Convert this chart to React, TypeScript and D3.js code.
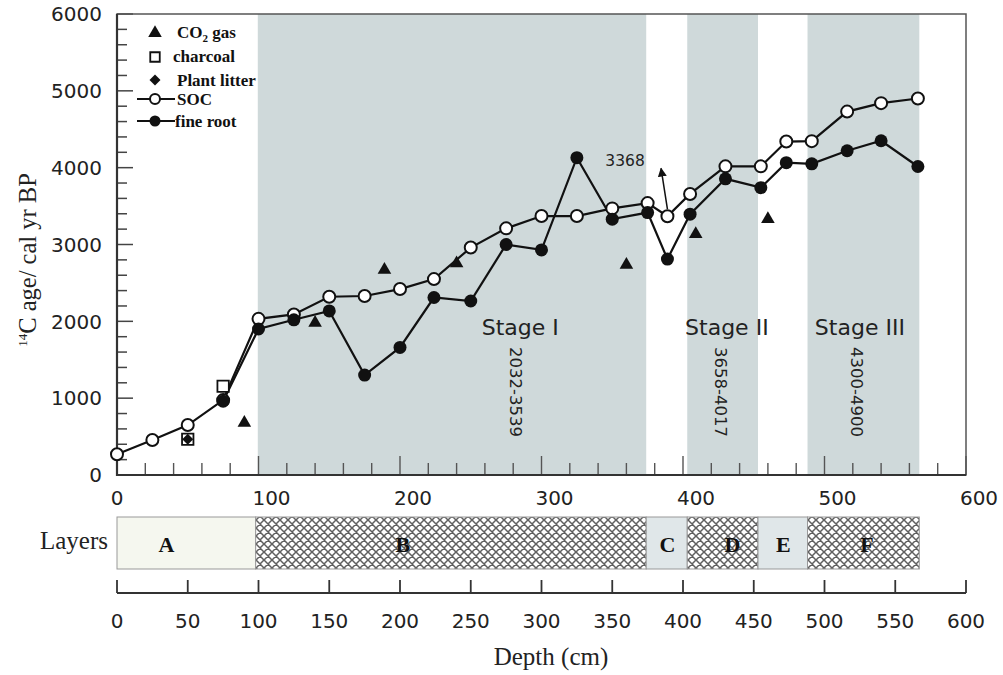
import { useEffect, useRef } from 'react';
import * as d3 from 'd3';

// SOC (open circles): depth (cm) and 14C age (cal yr BP)
const socDepth = [0, 25, 50, 75, 100, 125, 150, 175, 200, 224, 250, 275, 300, 325, 350, 375, 389, 405, 430, 455, 473, 491, 516, 540, 566];
const socAge = [270, 455, 650, 975, 2032, 2090, 2320, 2330, 2420, 2550, 2960, 3210, 3370, 3370, 3470, 3539, 3368, 3658, 4017, 4017, 4340, 4345, 4730, 4840, 4900];

// fine root (filled circles)
const rootDepth = [75, 100, 125, 150, 175, 200, 224, 250, 275, 300, 325, 350, 375, 389, 405, 430, 455, 473, 491, 516, 540, 566];
const rootAge = [960, 1900, 2020, 2135, 1300, 1660, 2310, 2265, 3000, 2930, 4130, 3330, 3415, 2810, 3395, 3855, 3740, 4065, 4050, 4220, 4350, 4015];

// CO2 gas (triangles), charcoal (squares), plant litter (diamond)
const co2Depth = [90, 140, 189, 240, 360, 409, 460];
const co2Age = [680, 1980, 2670, 2755, 2735, 3135, 3330];
const charcoalDepth = [50, 75];
const charcoalAge = [465, 1155];
const litterDepth = [50];
const litterAge = [465];

// shaded stages
const stageNames = ['Stage I', 'Stage II', 'Stage III'];
const stageRanges = ['2032-3539', '3658-4017', '4300-4900'];
const stageStart = [99.5, 403, 488];
const stageEnd = [374, 453, 567];
const stageLabelDepth = [285, 431, 525];
const stageRangeDepth = [282, 427, 523];

// soil layers strip
const layerNames = ['A', 'B', 'C', 'D', 'E', 'F'];
const layerFrom = [0, 98, 374, 403, 453, 488];
const layerTo = [98, 374, 403, 453, 488, 567];
const layerKind = ['plain', 'hatch', 'light', 'hatch', 'light', 'hatch'];
const layerLabelDepth = [35, 202, 389, 435, 471, 530];

const yTickLabels = [0, 1000, 2000, 3000, 4000, 5000, 6000];
const xTickLabels = [0, 100, 200, 300, 400, 500, 600];
const depthTickLabels = [0, 50, 100, 150, 200, 250, 300, 350, 400, 450, 500, 550, 600];

const App = () => {
  const chartRef = useRef<SVGSVGElement | null>(null);

  useEffect(() => {
    if (!chartRef.current) return;
    const svg = d3.select(chartRef.current);
    svg.selectAll('*').remove();

    const sans = '"DejaVu Sans", sans-serif';
    const serif = '"Liberation Serif", "Times New Roman", serif';

    const x = d3.scaleLinear().domain([0, 600]).range([117, 966]);
    const y = d3.scaleLinear().domain([0, 6000]).range([475, 14]);

    const defs = svg.append('defs');
    const pat = defs.append('pattern')
      .attr('id', 'xhatch')
      .attr('patternUnits', 'userSpaceOnUse')
      .attr('width', 8)
      .attr('height', 8);
    pat.append('rect').attr('width', 8).attr('height', 8).attr('fill', '#fff');
    pat.append('path')
      .attr('d', 'M0,0L8,8M-1,7L1,9M7,-1L9,1M8,0L0,8M-1,1L1,-1M7,9L9,7')
      .attr('stroke', '#606060')
      .attr('stroke-width', 1.5);

    defs.append('marker')
      .attr('id', 'arrow')
      .attr('viewBox', '0 0 10 10')
      .attr('refX', 9)
      .attr('refY', 5)
      .attr('markerWidth', 6)
      .attr('markerHeight', 6)
      .attr('orient', 'auto')
      .append('path')
      .attr('d', 'M0,0L10,5L0,10z')
      .attr('fill', '#111');

    // Stage bands
    svg.append('g').selectAll('rect').data(stageNames).join('rect')
      .attr('x', (_, i) => x(stageStart[i]))
      .attr('width', (_, i) => x(stageEnd[i]) - x(stageStart[i]))
      .attr('y', y(6000))
      .attr('height', y(0) - y(6000))
      .attr('fill', '#cfd9da');

    // Y ticks (inward)
    svg.append('g').selectAll('line').data(d3.range(0, 6001, 200)).join('line')
      .attr('x1', x(0))
      .attr('x2', d => x(0) + (d % 1000 === 0 ? 16 : 10))
      .attr('y1', d => y(d))
      .attr('y2', d => y(d))
      .attr('stroke', '#444')
      .attr('stroke-width', 1.5);

    svg.append('g').selectAll('text').data(yTickLabels).join('text')
      .attr('x', x(0) - 15)
      .attr('y', d => y(d))
      .attr('dy', '0.36em')
      .attr('text-anchor', 'end')
      .style('font-family', sans)
      .style('font-size', '20px')
      .attr('fill', '#222')
      .text(d => d);

    // X ticks (inward)
    svg.append('g').selectAll('line').data(d3.range(0, 601, 20)).join('line')
      .attr('x1', d => x(d))
      .attr('x2', d => x(d))
      .attr('y1', y(0))
      .attr('y2', d => y(0) - (d % 100 === 0 ? 19 : 12))
      .attr('stroke', '#555')
      .attr('stroke-width', 1.4);

    svg.append('g').selectAll('text').data(xTickLabels).join('text')
      .attr('x', d => x(d) + (d === 0 ? 0 : 13))
      .attr('y', 505)
      .attr('text-anchor', 'middle')
      .style('font-family', sans)
      .style('font-size', '20px')
      .attr('fill', '#222')
      .text(d => d);

    // Frame
    svg.append('rect')
      .attr('x', x(0)).attr('y', y(6000))
      .attr('width', x(600) - x(0)).attr('height', y(0) - y(6000))
      .attr('fill', 'none').attr('stroke', '#555').attr('stroke-width', 1.5);
    svg.append('path')
      .attr('d', `M${x(0)},${y(6000)}V${y(0)}H${x(600)}`)
      .attr('fill', 'none').attr('stroke', '#333').attr('stroke-width', 2.2);

    // Stage labels
    svg.append('g').selectAll('text').data(stageNames).join('text')
      .attr('x', (_, i) => x(stageLabelDepth[i]))
      .attr('y', y(1820))
      .attr('text-anchor', 'middle')
      .style('font-family', sans)
      .style('font-size', '22px')
      .attr('fill', '#222')
      .text(d => d);

    svg.append('g').selectAll('text').data(stageRanges).join('text')
      .attr('transform', (_, i) => `translate(${x(stageRangeDepth[i])},${y(1665)}) rotate(90)`)
      .attr('dy', '0.36em')
      .style('font-family', sans)
      .style('font-size', '16.5px')
      .attr('fill', '#222')
      .text(d => d);

    // Series lines
    const line = d3.line<[number, number]>().x(d => x(d[0])).y(d => y(d[1]));
    const socPts: [number, number][] = socDepth.map((d, i) => [d, socAge[i]]);
    const rootPts: [number, number][] = rootDepth.map((d, i) => [d, rootAge[i]]);

    svg.append('path').datum(socPts).attr('d', line)
      .attr('fill', 'none').attr('stroke', '#111').attr('stroke-width', 2.2);
    svg.append('path').datum(rootPts).attr('d', line)
      .attr('fill', 'none').attr('stroke', '#111').attr('stroke-width', 2.2);

    // 3368 annotation arrow
    svg.append('line')
      .attr('x1', x(389)).attr('y1', y(3368) - 7)
      .attr('x2', x(384.5)).attr('y2', y(3990))
      .attr('stroke', '#111').attr('stroke-width', 1.5)
      .attr('marker-end', 'url(#arrow)');
    svg.append('text')
      .attr('x', x(373)).attr('y', y(4020))
      .attr('text-anchor', 'end')
      .style('font-family', sans)
      .style('font-size', '15.5px')
      .attr('fill', '#222')
      .text('3368');

    svg.append('g').selectAll('circle').data(socPts).join('circle')
      .attr('cx', d => x(d[0])).attr('cy', d => y(d[1])).attr('r', 6)
      .attr('fill', '#fff').attr('stroke', '#111').attr('stroke-width', 2);
    svg.append('g').selectAll('circle').data(rootPts).join('circle')
      .attr('cx', d => x(d[0])).attr('cy', d => y(d[1])).attr('r', 6.5)
      .attr('fill', '#111');

    const tri = d3.symbol(d3.symbolTriangle, 80)();
    const sq = d3.symbol(d3.symbolSquare, 130)();
    // diamond = square turned 45 degrees
    const dia = d3.symbol(d3.symbolSquare, 60)();

    svg.append('g').selectAll('path').data(co2Depth).join('path')
      .attr('transform', (d, i) => `translate(${x(d)},${y(co2Age[i])})`)
      .attr('d', tri).attr('fill', '#111');
    svg.append('g').selectAll('path').data(charcoalDepth).join('path')
      .attr('transform', (d, i) => `translate(${x(d)},${y(charcoalAge[i])})`)
      .attr('d', sq).attr('fill', '#fff').attr('stroke', '#111').attr('stroke-width', 1.8);
    svg.append('g').selectAll('path').data(litterDepth).join('path')
      .attr('transform', (d, i) => `translate(${x(d)},${y(litterAge[i])}) rotate(45)`)
      .attr('d', dia).attr('fill', '#111');

    // Legend
    const lg = svg.append('g').style('font-family', serif).style('font-size', '17px').style('font-weight', 'bold');
    lg.append('path').attr('transform', 'translate(155,33)').attr('d', tri).attr('fill', '#111');
    lg.append('path').attr('transform', 'translate(155,57)').attr('d', d3.symbol(d3.symbolSquare, 90)())
      .attr('fill', '#fff').attr('stroke', '#111').attr('stroke-width', 1.8);
    lg.append('path').attr('transform', 'translate(155,80) rotate(45)').attr('d', dia).attr('fill', '#111');
    lg.append('line').attr('x1', 137).attr('x2', 175).attr('y1', 99).attr('y2', 99).attr('stroke', '#111').attr('stroke-width', 2);
    lg.append('circle').attr('cx', 155).attr('cy', 99).attr('r', 5).attr('fill', '#fff').attr('stroke', '#111').attr('stroke-width', 2);
    lg.append('line').attr('x1', 137).attr('x2', 175).attr('y1', 121).attr('y2', 121).attr('stroke', '#111').attr('stroke-width', 2);
    lg.append('circle').attr('cx', 155).attr('cy', 121).attr('r', 5.5).attr('fill', '#111');

    const co2Text = lg.append('text').attr('x', 177).attr('y', 38).attr('fill', '#111');
    co2Text.append('tspan').text('CO');
    co2Text.append('tspan').attr('dy', 4).style('font-size', '11px').text('2');
    co2Text.append('tspan').attr('dy', -4).text(' gas');
    lg.append('text').attr('x', 173).attr('y', 62).attr('fill', '#111').text('charcoal');
    lg.append('text').attr('x', 177).attr('y', 86).attr('fill', '#111').text('Plant litter');
    lg.append('text').attr('x', 177).attr('y', 105).attr('fill', '#111').text('SOC');
    lg.append('text').attr('x', 175).attr('y', 127).attr('fill', '#111').text('fine root');

    // Y axis title
    const yt = svg.append('text')
      .attr('transform', 'translate(36,260) rotate(-90)')
      .attr('text-anchor', 'middle')
      .style('font-family', serif)
      .style('font-size', '24.5px')
      .attr('fill', '#222');
    yt.append('tspan').attr('dy', -9).style('font-size', '13px').text('14');
    yt.append('tspan').attr('dy', 9).text('C age/ cal yr BP');

    // Layers strip
    const layerTop = 517, layerBottom = 569;
    svg.append('g').selectAll('rect').data(layerNames).join('rect')
      .attr('x', (_, i) => x(layerFrom[i]))
      .attr('width', (_, i) => x(layerTo[i]) - x(layerFrom[i]))
      .attr('y', layerTop)
      .attr('height', layerBottom - layerTop)
      .attr('fill', (_, i) => layerKind[i] === 'hatch' ? 'url(#xhatch)' : layerKind[i] === 'light' ? '#e0e7e9' : '#f5f7ef')
      .attr('stroke', '#999')
      .attr('stroke-width', 1);

    svg.append('g').selectAll('text').data(layerNames).join('text')
      .attr('x', (_, i) => x(layerLabelDepth[i]))
      .attr('y', 552)
      .attr('text-anchor', 'middle')
      .style('font-family', serif)
      .style('font-size', '22px')
      .style('font-weight', 'bold')
      .attr('fill', '#111')
      .text(d => d);

    svg.append('text')
      .attr('x', 108).attr('y', 549)
      .attr('text-anchor', 'end')
      .style('font-family', serif)
      .style('font-size', '25px')
      .attr('fill', '#222')
      .text('Layers');

    // Depth axis
    const axisY = 593;
    svg.append('line')
      .attr('x1', x(0)).attr('x2', x(600)).attr('y1', axisY).attr('y2', axisY)
      .attr('stroke', '#333').attr('stroke-width', 2);
    svg.append('g').selectAll('line').data(depthTickLabels).join('line')
      .attr('x1', d => x(d)).attr('x2', d => x(d))
      .attr('y1', axisY).attr('y2', axisY - 13)
      .attr('stroke', '#333').attr('stroke-width', 1.8);
    svg.append('g').selectAll('text').data(depthTickLabels).join('text')
      .attr('x', d => x(d)).attr('y', 628)
      .attr('text-anchor', 'middle')
      .style('font-family', sans)
      .style('font-size', '20px')
      .attr('fill', '#222')
      .text(d => d);

    svg.append('text')
      .attr('x', 551).attr('y', 665)
      .attr('text-anchor', 'middle')
      .style('font-family', serif)
      .style('font-size', '25px')
      .attr('fill', '#222')
      .text('Depth (cm)');

    return () => {
      svg.selectAll('*').remove();
    };
  }, []);

  return (
    <svg
      ref={chartRef}
      width={1003}
      height={675}
      style={{ position: 'absolute', left: 0, top: 0, background: '#fff' }}
    />
  );
};

export default App;
